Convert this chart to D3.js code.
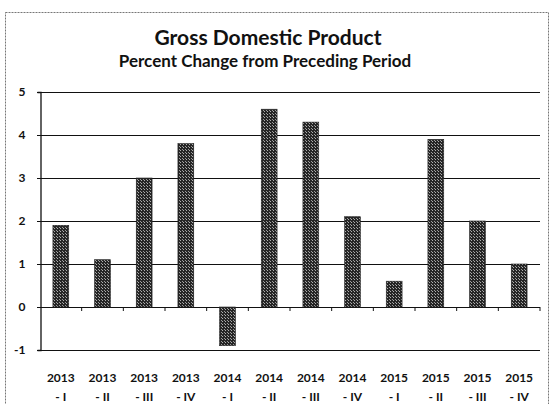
<!DOCTYPE html>
<html>
<head>
<meta charset="utf-8">
<script src="https://cdn.jsdelivr.net/npm/d3@7"></script>
<style>
  body { margin: 0; background: #fff; }
  svg { display: block; font-family: Lato, "Open Sans", sans-serif; font-weight: bold; }
</style>
</head>
<body>
<main></main>
<script>
const years = ["2013", "2013", "2013", "2013", "2014", "2014", "2014", "2014", "2015", "2015", "2015", "2015"];
const quarters = ["- I", "- II", "- III", "- IV", "- I", "- II", "- III", "- IV", "- I", "- II", "- III", "- IV"];
const values = [1.9, 1.1, 3.0, 3.8, -0.9, 4.6, 4.3, 2.1, 0.6, 3.9, 2.0, 1.0];
const yTicks = [-1, 0, 1, 2, 3, 4, 5];

const w = 550;
const h = 404;
const plotLeft = 40, plotRight = 540, plotTop = 92, plotBottom = 350;

const data = values.map((v, i) => ({ key: i, year: years[i], q: quarters[i], value: v }));

const svg = d3.select("main").append("svg")
  .attr("width", w)
  .attr("height", h);

// stipple pattern for the bars
const pat = svg.append("defs").append("pattern")
  .attr("id", "stip")
  .attr("width", 3)
  .attr("height", 3)
  .attr("patternUnits", "userSpaceOnUse");
pat.append("rect").attr("width", 3).attr("height", 3).attr("fill", "#262626");
pat.append("rect").attr("x", 0).attr("y", 0).attr("width", 1).attr("height", 1).attr("fill", "#b0b0b0");
pat.append("rect").attr("x", 2).attr("y", 2).attr("width", 1).attr("height", 1).attr("fill", "#999");

// chart border
svg.append("rect")
  .attr("x", 5.5).attr("y", 12.5)
  .attr("width", 543).attr("height", 395)
  .attr("fill", "none")
  .attr("stroke", "#777")
  .attr("stroke-dasharray", "2,1");

const xScale = d3.scaleBand()
  .domain(data.map(d => d.key))
  .range([plotLeft, plotRight])
  .paddingInner(0.62)
  .paddingOuter(0.31);

const yScale = d3.scaleLinear()
  .domain([-1, 5])
  .range([plotBottom, plotTop]);

// gridlines
svg.append("g")
  .selectAll("line")
  .data(yTicks)
  .enter()
  .append("line")
  .attr("x1", plotLeft - 3)
  .attr("x2", plotRight)
  .attr("y1", d => Math.round(yScale(d)) + 0.5)
  .attr("y2", d => Math.round(yScale(d)) + 0.5)
  .attr("stroke", "#111")
  .attr("stroke-width", 1.2);

// y axis
const yAxis = svg.append("g")
  .attr("transform", `translate(${plotLeft + 0.5},0)`)
  .call(d3.axisLeft(yScale).tickValues(yTicks).tickSize(3).tickFormat(d => String(d)));
yAxis.select(".domain").attr("stroke", "#111").attr("stroke-width", 1.3);
yAxis.selectAll("text")
  .attr("x", -15)
  .style("font-size", "12px")
  .style("font-weight", "bold")
  .style("font-family", "Lato, sans-serif")
  .attr("fill", "#111");
yAxis.selectAll(".tick line").attr("stroke", "#111");

// bars
svg.append("g")
  .selectAll("rect")
  .data(data)
  .enter()
  .append("rect")
  .attr("x", d => xScale(d.key))
  .attr("y", d => yScale(Math.max(0, d.value)))
  .attr("width", xScale.bandwidth())
  .attr("height", d => Math.abs(yScale(d.value) - yScale(0)))
  .attr("fill", "url(#stip)")
  .attr("stroke", "#222")
  .attr("stroke-width", 0.6);

// category ticks on the zero line
const step = xScale.step();
svg.append("g")
  .selectAll("line")
  .data(d3.range(1, data.length + 1))
  .enter()
  .append("line")
  .attr("x1", i => plotLeft + step * i)
  .attr("x2", i => plotLeft + step * i)
  .attr("y1", yScale(0))
  .attr("y2", yScale(0) + 4)
  .attr("stroke", "#111");

// x labels
const labels = svg.append("g")
  .selectAll("text")
  .data(data)
  .enter()
  .append("text")
  .attr("x", d => xScale(d.key) + xScale.bandwidth() / 2)
  .attr("text-anchor", "middle")
  .style("font-size", "12px")
  .attr("fill", "#111");
labels.append("tspan").attr("x", d => xScale(d.key) + xScale.bandwidth() / 2).attr("y", 382).text(d => d.year);
labels.append("tspan").attr("x", d => xScale(d.key) + xScale.bandwidth() / 2).attr("y", 401).text(d => d.q);

// titles
svg.append("text")
  .attr("x", 268)
  .attr("y", 45)
  .attr("text-anchor", "middle")
  .style("font-size", "21px")
  .attr("fill", "#111")
  .text("Gross Domestic Product");
svg.append("text")
  .attr("x", 265)
  .attr("y", 67)
  .attr("text-anchor", "middle")
  .style("font-size", "17px")
  .attr("fill", "#111")
  .text("Percent Change from Preceding Period");
</script>
</body>
</html>
